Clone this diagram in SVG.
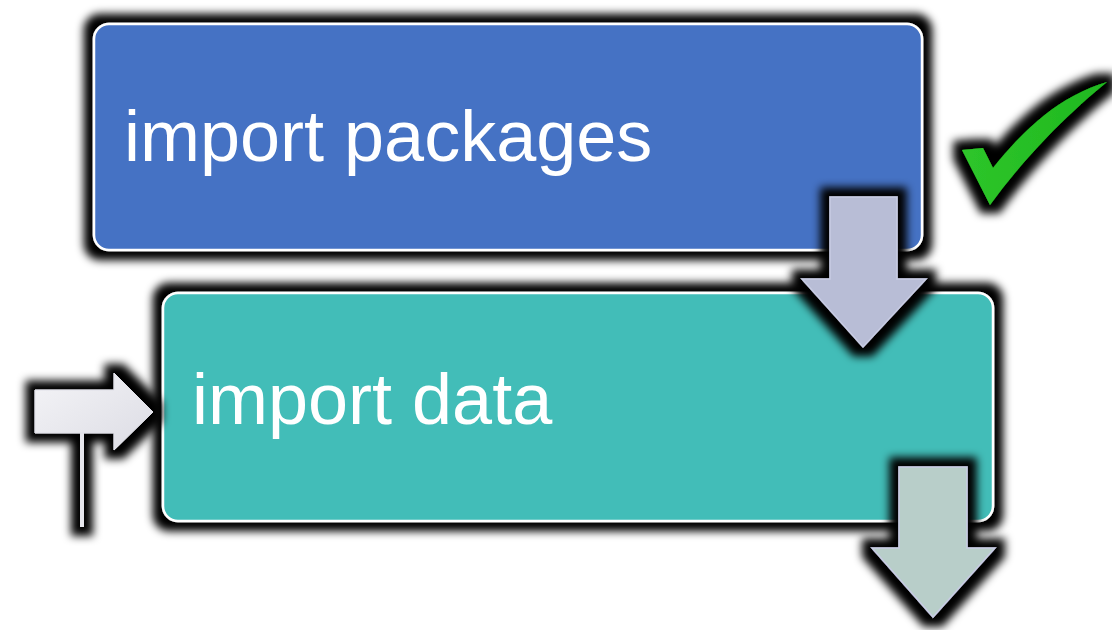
<svg xmlns="http://www.w3.org/2000/svg" width="1112" height="630" viewBox="0 0 1112 630">
  <defs>
    <!-- dark halo drawn behind every shape -->
    <filter id="halo" x="-20%" y="-20%" width="140%" height="140%">
      <feMorphology in="SourceAlpha" operator="dilate" radius="9" result="grow"/>
      <feGaussianBlur in="grow" stdDeviation="4.5" result="soft"/>
      <feFlood flood-color="#000"/>
      <feComposite in2="soft" operator="in" result="shadow"/>
      <feMerge>
        <feMergeNode in="shadow"/>
        <feMergeNode in="SourceGraphic"/>
      </feMerge>
    </filter>
    <linearGradient id="signFill" x1="0" y1="0" x2="1" y2="1">
      <stop offset="0" stop-color="#f4f4f7"/>
      <stop offset="1" stop-color="#dcdce4"/>
    </linearGradient>
    <linearGradient id="tickFill" x1="0" y1="0" x2="1" y2="0">
      <stop offset="0" stop-color="#2ec52a"/>
      <stop offset="1" stop-color="#1fb81f"/>
    </linearGradient>
  </defs>
  <style>
    .box { stroke: #ffffff; stroke-width: 2.5; }
    .label { font-family: "Liberation Sans", Arial, sans-serif; font-size: 72px; fill: #ffffff; }
    .down { stroke: #c8cce4; stroke-width: 1.5; }
  </style>

  <rect width="1112" height="630" fill="#ffffff"/>

  <g id="step-packages" filter="url(#halo)">
    <rect class="box" x="94" y="24" width="828" height="226" rx="15" fill="#4472c4"/>
    <text class="label" x="124" y="161">import packages</text>
  </g>

  <g id="done-tick" filter="url(#halo)">
    <path d="M962,150 L983,148 L993,168 C1025,128 1060,96 1107,82 C1075,108 1030,150 990,205 Z" fill="url(#tickFill)"/>
  </g>

  <g id="step-data" filter="url(#halo)">
    <rect class="box" x="163" y="293" width="830" height="228" rx="15" fill="#42bdb8"/>
    <text class="label" x="192" y="424">import data</text>
  </g>

  <g id="connectors">
    <g id="arrow-packages-data" filter="url(#halo)">
      <path class="down" d="M830,197 L897,197 L897,279 L926,279 L863,347 L802,279 L830,279 Z" fill="#b8bdd6"/>
    </g>
    <g id="arrow-data-next" filter="url(#halo)">
      <path class="down" d="M899,467 L967,467 L967,548 L995,548 L933,617 L872,548 L899,548 Z" fill="#b8cec9"/>
    </g>
    <g id="entry-sign" filter="url(#halo)">
      <rect x="80" y="428" width="4" height="99" fill="#e6e6ec"/>
      <path d="M35,390 L114,390 L114,373 L153,412 L114,450 L114,433 L35,433 Z" fill="url(#signFill)" stroke="#e0e0e8" stroke-width="1"/>
    </g>
  </g>
</svg>
